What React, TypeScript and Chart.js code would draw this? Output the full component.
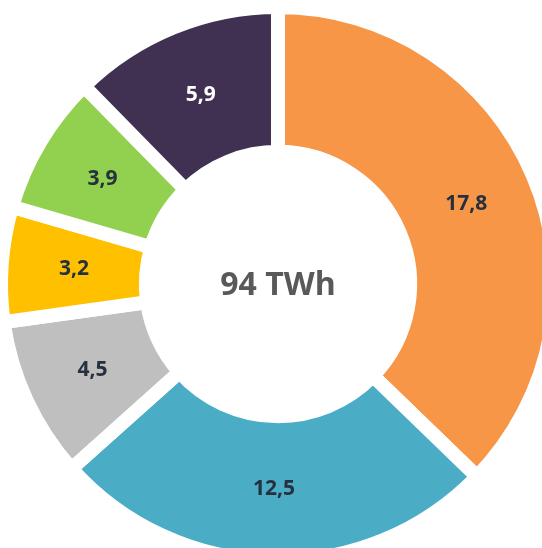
import React, { useEffect, useRef } from "react";
import { Chart, registerables } from "chart.js";

Chart.register(...registerables);

// Slice values (TWh), clockwise from 12 o'clock
const values = [17.8, 12.5, 4.5, 3.2, 3.9, 5.9];
const sliceColors = ["#F79646", "#4BACC6", "#BFBFBF", "#FFC000", "#92D050", "#403152"];
const labelColors = ["#26303f", "#26303f", "#26303f", "#26303f", "#26303f", "#ffffff"];
const centerText = "94 TWh";

const formatValue = (v: number) => v.toFixed(1).replace(".", ",");
const sliceLabels = values.map(formatValue);

const FONT = "'Open Sans', 'DejaVu Sans', sans-serif";

// Draws the value inside each arc and the total in the hole
const doughnutText = {
  id: "doughnutText",
  afterDatasetsDraw(chart: any) {
    const { ctx } = chart;
    const meta = chart.getDatasetMeta(0);
    ctx.save();
    ctx.textAlign = "center";
    ctx.textBaseline = "middle";
    ctx.font = `bold 21px ${FONT}`;
    meta.data.forEach((arc: any, i: number) => {
      const p = arc.tooltipPosition(false);
      ctx.fillStyle = labelColors[i];
      ctx.fillText(formatValue(values[i]), p.x, p.y);
    });
    const first = meta.data[0];
    if (first) {
      ctx.font = `bold 32px ${FONT}`;
      ctx.fillStyle = "#595959";
      ctx.fillText(centerText, first.x, first.y + 2);
    }
    ctx.restore();
  },
};

const SIZE = 600;
const CX = 278;
const CY = 284;

export default function App() {
  const ref = useRef<HTMLCanvasElement | null>(null);

  useEffect(() => {
    if (!ref.current) return;
    const chart = new Chart(ref.current, {
      type: "doughnut",
      data: {
        labels: sliceLabels,
        datasets: [
          {
            data: values,
            backgroundColor: sliceColors,
            borderColor: "#ffffff",
            borderWidth: 14,
            borderAlign: "center",
            borderJoinStyle: "miter",
            radius: 277,
          },
        ],
      },
      options: {
        responsive: false,
        animation: false,
        cutout: "47.7%",
        rotation: 0,
        layout: { padding: 0 },
        plugins: {
          legend: { display: false },
          tooltip: { enabled: false },
        },
      },
      plugins: [doughnutText],
    });
    return () => chart.destroy();
  }, []);

  return (
    <div
      style={{
        position: "fixed",
        left: 0,
        top: 0,
        width: 542,
        height: 548,
        overflow: "hidden",
        background: "#ffffff",
      }}
    >
      <canvas
        ref={ref}
        width={SIZE}
        height={SIZE}
        style={{
          position: "absolute",
          left: CX - SIZE / 2,
          top: CY - SIZE / 2,
          width: SIZE,
          height: SIZE,
        }}
      />
    </div>
  );
}
